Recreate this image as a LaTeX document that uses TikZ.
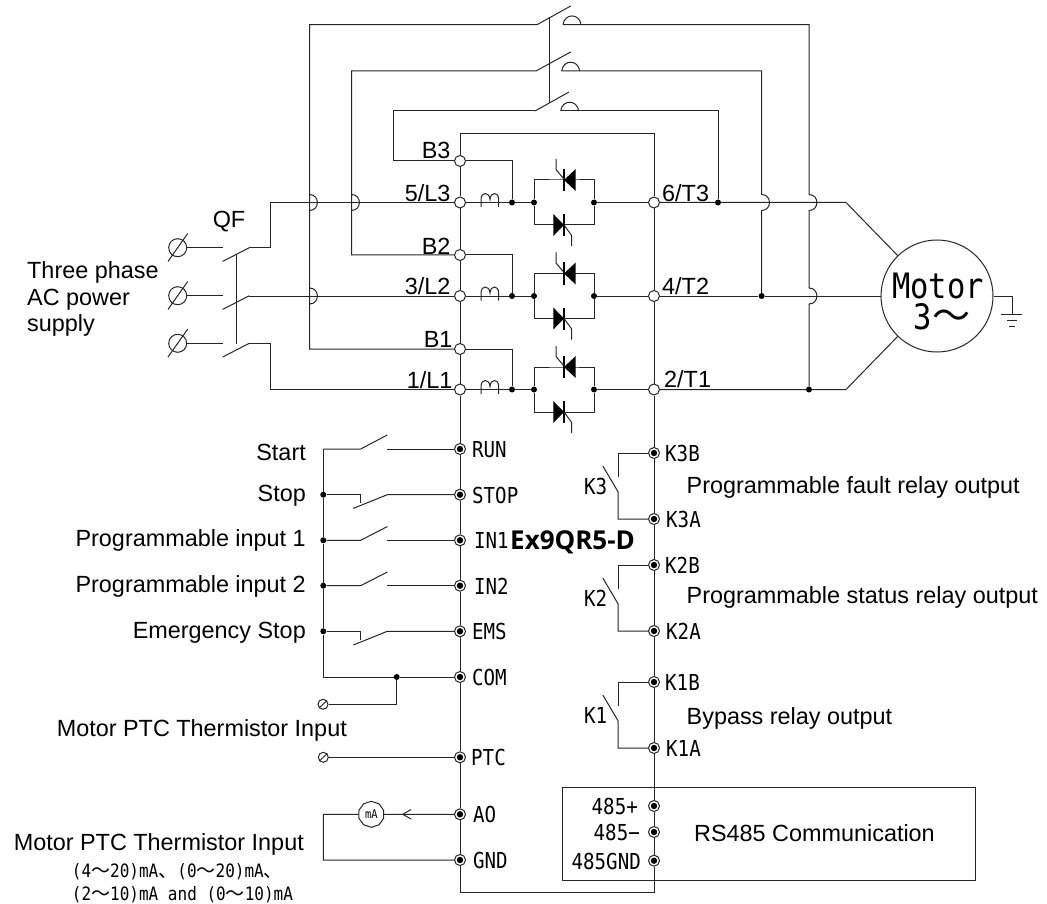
\documentclass[tikz,border=0pt]{standalone}
\usepackage{fontspec}
\setmainfont{Liberation Sans}
\newfontfamily\lab[FakeStretch=0.87]{DejaVu Sans Mono}
\newfontfamily\cjk{Noto Sans CJK SC}
\newfontfamily\exf{Open Sans}
\usetikzlibrary{shapes.geometric}
\newcommand{\jmpv}[2]{-- (#1,#2-8) .. controls (#1+10.5,#2-8) and (#1+10.5,#2+8) .. (#1,#2+8)}
\newcommand{\biglab}{\fontsize{23.4}{26.5}\selectfont}
\newcommand{\monolab}{\fontsize{22}{26}\lab\selectfont}
\begin{document}
\begin{tikzpicture}[x=1pt,y=-1pt,
  wire/.style={line width=1pt,draw=black!85},
  open/.style={circle,draw=black!85,line width=1pt,fill=white,minimum size=11pt,inner sep=0pt},
  term/.style={circle,draw=black!85,line width=1pt,fill=white,minimum size=11pt,inner sep=0pt,
    path picture={\fill[black] (path picture bounding box.center) circle (3.2pt);}},
  jdot/.style={circle,fill=black,minimum size=6pt,inner sep=0pt},
  small/.style={circle,draw=black!85,line width=1pt,fill=white,minimum size=10pt,inner sep=0pt},
  src/.style={circle,draw=black!85,line width=1pt,fill=white,minimum size=18pt,inner sep=0pt},
  txtE/.style={anchor=mid east,inner sep=0pt,font=\biglab,yshift=-6.2pt},
  txtW/.style={anchor=mid west,inner sep=0pt,font=\biglab,yshift=-6.2pt},
  monoW/.style={anchor=mid west,inner sep=0pt,font=\monolab,yshift=-5.8pt},
  monoE/.style={anchor=mid east,inner sep=0pt,font=\monolab,yshift=-5.8pt},
  monoS/.style={anchor=mid west,inner sep=0pt,font=\fontsize{18.4}{22}\lab\selectfont,yshift=-4.5pt},
]
\useasboundingbox (0,0) rectangle (1047,904);

% ---- terminals and junctions
\foreach \n/\y/\by in {3/202.5/161,2/296/255,1/389.5/349}{
  \node[open] (tL\n) at (460,\y) {};
  \node[open] (tB\n) at (460,\by) {};
  \node[open] (tT\n) at (654,\y) {};
  \node[jdot] (jc\n) at (512,\y) {};
  \node[jdot] (ja\n) at (534,\y) {};
  \node[jdot] (jb\n) at (594,\y) {};
}
\node[jdot] (jT3) at (718,202.5) {};
\node[jdot] (jT2) at (761.6,296) {};
\node[jdot] (jT1) at (809,389.5) {};
\foreach \n/\y in {RUN/449,STOP/494.7,INa/540.3,INb/585.7,EMS/631.3,COM/677,PTC/757.3,AO/814.3,GND/860}{
  \node[term] (t\n) at (460,\y) {};
}
\foreach \n/\y in {KcB/453,KcA/519,KbB/565,KbA/631,KaB/682,KaA/748,Ra/806,Rb/832,Rc/860.7}{
  \node[term] (t\n) at (654,\y) {};
}
\node[jdot] (jSTOP) at (323.3,494.7) {};
\node[jdot] (jINa) at (323.3,540.3) {};
\node[jdot] (jINb) at (323.3,585.7) {};
\node[jdot] (jEMS) at (323.3,631.3) {};
\node[jdot] (jCOM) at (396.7,677) {};
\node[small] (sCOM) at (323,704.3) {};
\node[small] (sPTC) at (323.3,757.3) {};
\node[circle,draw=black!85,line width=1pt,minimum size=112pt,inner sep=0pt] (motor) at (937,296) {};
\node[regular polygon,regular polygon sides=10,regular polygon rotate=18,draw=black!85,line width=1pt,minimum size=26pt,inner sep=0pt,
  font=\fontsize{12}{12}\lab\selectfont] (mA) at (371.3,814.3) {mA};
\node[src] (sa) at (177.7,247.7) {};
\node[src] (sb) at (177.7,295.7) {};
\node[src] (sc) at (177.7,343.3) {};

% ---- block outline
\coordinate (tl) at (460,134);
\coordinate (tr) at (654,134);
\coordinate (bl) at (460,892.7);
\coordinate (br) at (654,892.7);
\draw[wire] (tB3) -- (tl) -- (tr) -- (tT3);
\draw[wire] (tB3) -- (tL3) -- (tB2) -- (tL2) -- (tB1) -- (tL1) -- (tRUN) -- (tSTOP) -- (tINa) -- (tINb) -- (tEMS) -- (tCOM) -- (tPTC) -- (tAO) -- (tGND) -- (bl) -- (br) -- (tRc) -- (tRb) -- (tRa) -- (tKaA) -- (tKaB) -- (tKbA) -- (tKbB) -- (tKcA) -- (tKcB) -- (tT1) -- (tT2) -- (tT3);

% ---- phase branches with thyristors and reactors
\foreach \n/\y in {3/202.5,2/296,1/389.5}{
  \begin{scope}[shift={(0,\y)}]
    \draw[wire] (tL\n) -- (jc\n) -- (ja\n);
    \draw[wire] (tB\n) -| (jc\n);
    \draw[wire] (jb\n) -- (tT\n);
    \draw[wire] (ja\n) |- (564,-22.5) -- (594,-22.5) -- (jb\n);
    \draw[wire] (ja\n) |- (594,22.5) -- (jb\n);
    \draw[line width=1pt,draw=black!85] (481,4.5) -- (481,-3) .. controls (481,-11) and (489.5,-11) .. (490,-3) .. controls (490.5,-11) and (498.7,-11) .. (498.7,-3) -- (498.7,4.5);
    \fill[black] (564,-22.5) -- (575.7,-33.5) -- (575.7,-11.5) -- cycle;
    \draw[line width=2.2pt,black] (564,-33.5) -- (564,-11.5);
    \draw[line width=1pt,black!85] (564,-23.5) -- (556,-33) -- (556,-43.5);
    \fill[black] (564,22.5) -- (553.3,11.5) -- (553.3,33.5) -- cycle;
    \draw[line width=2.2pt,black] (564,11.5) -- (564,33.5);
    \draw[line width=1pt,black!85] (564,22.5) -- (571.7,33) -- (571.7,43.5);
  \end{scope}
}

% ---- source and QF
\foreach \n/\y in {a/247.7,b/295.7,c/343.3}{
  \draw[line width=1pt,black!85] (168,\y+13.7) -- (187.7,\y-14.2);
  \draw[wire] (s\n) -- (222.7,\y);
  \draw[wire] (222.7,\y+13.7) -- (249.3,\y);
}
\coordinate (qa) at (249.3,247.7);
\coordinate (qb) at (249.3,296);
\coordinate (qc) at (249.3,343.3);
\draw[wire] (236,255) -- (236,344);
\draw[wire] (qa) -- (270.7,247.7) |- (tL3);
\draw[wire] (qb) -- (tL2);
\draw[wire] (qc) -- (270.7,343.3) |- (tL1);

% ---- bypass contactor
\foreach \yy/\bx/\ex/\ey/\ax in {24.7/537/570.7/6/563,71/536/570.7/52/561.7,111/535/569/92/560.7}{
  \draw[wire] (\bx,\yy) -- (\ex,\ey);
  \draw[line width=1pt,black!85] (\ax,\yy) .. controls (\ax+1.5,\yy-11.7) and (\ax+16.5,\yy-11.7) .. (\ax+18,\yy);
}
\draw[wire] (549.7,17) -- (549.7,103);
\draw[wire] (tB1) -- (309.5,349) \jmpv{309.5}{296} \jmpv{309.5}{202.5} -- (309.5,24.7) -- (537,24.7);
\draw[wire] (tB2) -- (351.5,255) \jmpv{351.5}{202.5} -- (351.5,71) -- (536,71);
\draw[wire] (tB3) -- (393,161) -- (393,111) -- (535,111);
\draw[wire] (563,24.7) -- (809,24.7) \jmpv{809}{202.5} \jmpv{809}{296} -- (jT1);
\draw[wire] (561.7,71) -- (761.6,71) \jmpv{761.6}{202.5} -- (jT2);
\draw[wire] (560.7,111) -- (718,111) -- (jT3);

% ---- motor
\coordinate (d3) at (846,202.5);
\coordinate (d1) at (846,389.5);
\draw[wire] (tT3) -- (jT3) -- (d3) -- (motor);
\draw[wire] (tT2) -- (jT2) -- (motor);
\draw[wire] (tT1) -- (jT1) -- (d1) -- (motor);
\draw[wire] (motor) -- (1012,296) -- (1012,314);
\draw[wire] (1001,314) -- (1022,314);
\draw[wire] (1007,320.5) -- (1017,320.5);
\draw[wire] (1008.5,326) -- (1015,326);

% ---- control inputs
\coordinate (bTop) at (323.3,449);
\coordinate (bBot) at (323.3,677);
\draw[wire] (bTop) -- (jSTOP) -- (jINa) -- (jINb) -- (jEMS) -- (bBot) -- (jCOM) -- (tCOM);
\draw[wire] (bTop) -- (360.7,449) -- (387.3,435);
\draw[wire] (386.7,449) -- (tRUN);
\foreach \n/\y in {INa/540.3,INb/585.7}{
  \draw[wire] (j\n) -- (360.7,\y) -- (387.3,\y-13.7);
  \draw[wire] (386.7,\y) -- (t\n);
}
\foreach \n/\y in {STOP/494.7,EMS/631.3}{
  \draw[wire] (j\n) -- (360.7,\y) -- (360.7,\y+8.5);
  \draw[wire] (353.3,\y+13.7) -- (387.3,\y) -- (t\n);
}
\draw[wire] (jCOM) |- (sCOM);
\draw[line width=.9pt,black!85] (319,708) -- (327,700.5);
\draw[wire] (sPTC) -- (tPTC);
\draw[line width=.9pt,black!85] (319.3,761) -- (327.3,753.5);
\draw[wire] (tAO) -- (mA);
\draw[line width=1pt,black!85] (411,809.6) -- (402.7,814.3) -- (411,819);
\coordinate (aoL) at (323.3,814.3);
\coordinate (gndL) at (323.3,860);
\draw[wire] (mA) -- (aoL) -- (gndL) -- (tGND);

% ---- relay outputs
\foreach \t/\bb/\y/\dy in {KcB/KcA/453/66,KbB/KbA/565/66,KaB/KaA/682/66}{
  \draw[wire] (t\t) -- (618,\y) -- (618,\y+24);
  \draw[wire] (t\bb) -- (618,\y+\dy) -- (618,\y+38.7) -- (602.8,\y+13);
}

% ---- RS485 box
\node[draw=black!85,line width=1pt,minimum width=413pt,minimum height=92.7pt,inner sep=0pt] (rs) at (768.5,834.3) {};

% ---- labels
\node[inner sep=0pt,font=\biglab] (lQF) at (229,222) {QF};
\node[anchor=west,inner sep=0pt,align=left,font=\biglab] (l3p) at (27,299) {Three phase\\AC power\\supply};
\foreach \n/\x/\y/\t in {a/450.7/150/B3,b/450.7/192.7/5\slash L3,c/450.7/245.7/B2,d/450.7/286/3\slash L2,e/452.7/338.3/B1,f/452.7/379.3/1\slash L1}{
  \node[txtE] (lL\n) at (\x,\y) {\t};
}
\foreach \n/\x/\y/\t in {a/662/192.7/6\slash T3,b/662/286/4\slash T2,c/664/379/2\slash T1}{
  \node[txtW] (lT\n) at (\x,\y) {\t};
}
\foreach \n/\y/\t in {a/451.7/Start,b/493/Stop,c/538/Programmable input 1,d/584/Programmable input 2,e/630/Emergency Stop}{
  \node[txtE] (lI\n) at (306,\y) {\t};
}
\node[txtE] (lPa) at (347,728) {Motor PTC Thermistor Input};
\node[txtE] (lPb) at (304,841.7) {Motor PTC Thermistor Input};
\node[monoS] (lRa) at (71.7,870) {(4{\cjk\fontsize{19}{22}\selectfont ～}20)mA{\cjk\fontsize{19}{22}\selectfont 、}(0{\cjk\fontsize{19}{22}\selectfont ～}20)mA{\cjk\fontsize{19}{22}\selectfont 、}};
\node[monoS] (lRb) at (71.7,893) {(2{\cjk\fontsize{19}{22}\selectfont ～}10)mA and (0{\cjk\fontsize{19}{22}\selectfont ～}10)mA};
\foreach \n/\x/\y/\t in {a/472/449/RUN,b/472/494.7/STOP,c/474/540.3/IN1,d/474/585.7/IN2,e/472/631.3/EMS,f/472/677/COM,g/471/757.3/PTC,h/473/814.3/AO,i/473/860/GND}{
  \node[monoW] (lm\n) at (\x,\y) {\t};
}
\foreach \n/\x/\y/\t in {a/665/453/K3B,b/666/519/K3A,c/665/565/K2B,d/666/631/K2A,e/665/682/K1B,f/666/748/K1A,g/584/485.7/K3,h/584/597.7/K2,i/584/715/K1}{
  \node[monoW] (lk\n) at (\x,\y) {\t};
}
\node[monoE] (l485a) at (638,806) {485+};
\node[monoE] (l485b) at (640,832) {485−};
\node[monoE] (l485c) at (641,860.7) {485GND};
\node[txtW] (lOa) at (686.5,485) {Programmable fault relay output};
\node[txtW] (lOb) at (686.5,595) {Programmable status relay output};
\node[txtW] (lOc) at (686.5,715.7) {Bypass relay output};
\node[txtW] (lOd) at (694,832.7) {RS485 Communication};
\node[anchor=mid west,inner sep=0pt,font=\fontsize{26}{30}\selectfont\exf\bfseries,yshift=-6.5pt] (lEx) at (510,540) {Ex9QR5-D};
\node[inner sep=0pt,align=center,font=\fontsize{35}{31}\lab\selectfont] (lMo) at (938,301.5) {Motor\\\hspace*{8pt}3{\cjk\fontsize{38}{31}\selectfont ～}};
\end{tikzpicture}
\end{document}
